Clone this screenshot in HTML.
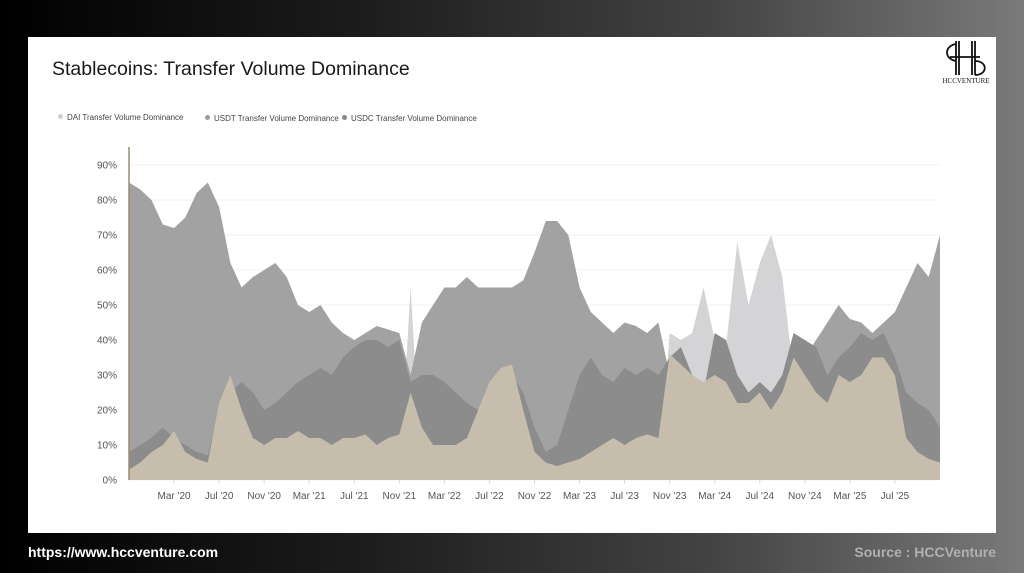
<!DOCTYPE html>
<html><head><meta charset="utf-8">
<style>
html,body{margin:0;padding:0;}
body{width:1024px;height:573px;overflow:hidden;background:linear-gradient(90deg,#000 0%,#1c1c1c 35%,#444 70%,#7a7a7a 100%);font-family:"Liberation Sans",sans-serif;position:relative;}
#card{position:absolute;left:28px;top:37px;width:968px;height:496px;background:#fff;}
#title{position:absolute;left:24px;top:21px;font-size:19.5px;color:#1a1a1a;}
.leg{position:absolute;top:76px;font-size:8px;color:#444;}
.leg i{display:inline-block;width:5px;height:5px;border-radius:50%;margin-right:4px;vertical-align:1px;}
#url{position:absolute;left:28px;top:544px;font-size:14px;font-weight:bold;color:#fff;}
#src{position:absolute;right:28px;top:544px;font-size:14px;font-weight:bold;color:#b0b0b0;}
#logo{position:absolute;left:908px;top:2px;width:60px;height:46px;}
</style></head><body>
<div id="card">
  <div id="title">Stablecoins: Transfer Volume Dominance</div>
  <div class="leg" style="left:30px"><i style="background:#d0d0d0"></i>DAI Transfer Volume Dominance</div>
  <div class="leg" style="left:177px;top:77px"><i style="background:#9c9c9c"></i>USDT Transfer Volume Dominance</div>
  <div class="leg" style="left:314px;top:77px"><i style="background:#888"></i>USDC Transfer Volume Dominance</div>
  <svg id="logo" viewBox="0 0 60 46">
    <path d="M20 2 V36 M23 2 V36 M36 2 V36 M39 2 V36 M14 18 H44 M20 5 C8 7 8 20 20 22 M39 22 C52 22 52 36 39 36" stroke="#111" stroke-width="1.8" fill="none"/>
    <text x="30" y="44" font-size="7" text-anchor="middle" font-family="Liberation Serif,serif" fill="#111">HCCVENTURE</text>
  </svg>
</div>
<svg id="chart" width="1024" height="573" style="position:absolute;left:0;top:0"></svg>
<div id="url">https://www.hccventure.com</div>
<div id="src">Source : HCCVenture</div>
<script>
const yTicks=[0,10,20,30,40,50,60,70,80,90];
const xTickLabels=["Mar '20","Jul '20","Nov '20","Mar '21","Jul '21","Nov '21","Mar '22","Jul '22","Nov '22","Mar '23","Jul '23","Nov '23","Mar '24","Jul '24","Nov '24","Mar '25","Jul '25"];
const xTickMonths=[4,8,12,16,20,24,28,32,36,40,44,48,52,56,60,64,68];
// monthly values from Nov 2019 (index 0) to Nov 2025 (index 72)
const midSeries=[85,83,80,73,72,75,82,85,78,62,55,58,60,62,58,50,48,50,45,42,40,42,44,43,42,30,45,50,55,55,58,55,55,55,55,57,65,74,74,70,55,48,45,42,45,44,42,45,30,0,0,0,0,0,0,0,0,0,0,0,35,40,45,50,46,45,42,45,48,55,62,58,70];
const darkSeries=[8,10,12,15,12,10,8,7,20,25,28,25,20,22,25,28,30,32,30,35,38,40,40,38,40,28,30,30,28,25,22,20,25,28,30,25,15,8,10,20,30,35,30,28,32,30,32,30,35,38,30,25,42,40,30,25,28,25,30,42,40,38,30,35,38,42,40,42,35,25,22,20,15];
const beigeSeries=[3,5,8,10,14,8,6,5,22,30,20,12,10,12,12,14,12,12,10,12,12,13,10,12,13,25,15,10,10,10,12,20,28,32,33,20,8,5,4,5,6,8,10,12,10,12,13,12,36,33,30,28,30,28,22,22,25,20,25,35,30,25,22,30,28,30,35,35,30,12,8,6,5];
const lightSeries=[0,0,0,0,0,0,0,0,0,0,0,0,0,0,0,0,0,0,0,0,0,0,0,0,0,55,0,0,0,0,0,0,0,0,0,0,0,0,0,0,0,0,0,0,0,0,0,0,42,40,42,55,40,38,68,50,62,70,58,30,0,0,0,0,0,0,0,0,0,0,0,0,0];

const NS="http://www.w3.org/2000/svg";
const svg=document.getElementById('chart');
const x0=129,x1=940,y0=480,pxPer=3.5,nM=72;
const X=m=>x0+(x1-x0)*m/nM;
const Y=v=>y0-v*pxPer;
function mk(tag,attrs){const e=document.createElementNS(NS,tag);for(const k in attrs)e.setAttribute(k,attrs[k]);svg.appendChild(e);return e;}
yTicks.forEach(t=>{
  const g=mk('line',{x1:x0,x2:x1,y1:Y(t),y2:Y(t),stroke:'#f0f0f0','stroke-width':1});
  
  
  const tx=mk('text',{x:117,y:Y(t)+3.5,'font-size':10,fill:'#555','text-anchor':'end','font-family':'Liberation Sans,sans-serif'});
  tx.textContent=t+'%';
  
  
});
function area(vals,color,name){
  let d='M'+X(0)+','+y0;
  vals.forEach((v,i)=>{d+=' L'+X(i).toFixed(1)+','+Y(v).toFixed(1);});
  d+=' L'+X(vals.length-1)+','+y0+' Z';
  const p=mk('path',{d:d,fill:color});
  
  
}
area(lightSeries,'#d4d4d6','dai-area');
area(midSeries,'#a2a2a2','usdt-area');
area(darkSeries,'#8c8c8c','usdc-area');
area(beigeSeries,'#c6bdac','base-area');
const ax=mk('line',{x1:x0,x2:x0,y1:147,y2:y0,stroke:'#9a8c70','stroke-width':1.5});


xTickLabels.forEach((l,i)=>{
  const tk=mk('line',{x1:X(xTickMonths[i]),x2:X(xTickMonths[i]),y1:y0,y2:y0+4,stroke:'#ddd'});
  
  
  const t=mk('text',{x:X(xTickMonths[i]),y:499,'font-size':10,fill:'#555','text-anchor':'middle','font-family':'Liberation Sans,sans-serif'});
  t.textContent=l;
  
  
});
</script>
</body></html>
